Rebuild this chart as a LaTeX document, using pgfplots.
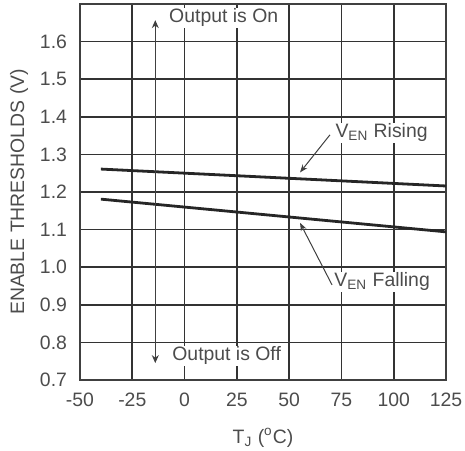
\documentclass[border=0pt]{standalone}
\usepackage{pgfplots}
\pgfplotsset{compat=1.18}
\usetikzlibrary{arrows.meta}
\usepackage{fontspec}
\setmainfont{Liberation Sans}
\begin{document}
\begin{tikzpicture}
\newcommand{\fs}{\fontsize{9.7}{11}\selectfont}
\begin{axis}[
  at={(0,0)}, anchor=south west,
  scale only axis, width=183pt, height=188pt,
  xmin=-50, xmax=125, ymin=0.7, ymax=1.7,
  xtick={-50,-25,0,25,50,75,100,125},
  ytick={0.7,0.8,0.9,1.0,1.1,1.2,1.3,1.4,1.5,1.6},
  grid=major,
  major grid style={black!80, line width=0.8pt},
  axis line style={black!75, line width=0.8pt},
  major tick length=0pt,
  /pgf/number format/assume math mode=true,
  yticklabel style={xshift=-3pt, /pgf/number format/fixed, /pgf/number format/fixed zerofill, /pgf/number format/precision=1},
  xticklabel style={yshift=-3pt, /pgf/number format/fixed},
  tick label style={font=\fs, text=black!70},
  label style={font=\fs, text=black!70},
  xlabel={T\textsubscript{J} (\textsuperscript{o}C)},
  ylabel={ENABLE THRESHOLDS (V)},
  xlabel style={yshift=-4pt},
  ylabel style={yshift=-1pt},
  clip=false,
]
\addplot[black!85, line width=1.4pt] coordinates {(-40,1.261) (125,1.216)};
\addplot[black!85, line width=1.4pt] coordinates {(-40,1.181) (125,1.094)};
\draw[black!75, line width=0.5pt, -{Stealth[length=4pt,width=3.5pt]}] (axis cs:-14,1.2) -- (axis cs:-14,1.657);
\draw[black!75, line width=0.5pt, -{Stealth[length=4pt,width=3.5pt]}] (axis cs:-14,1.2) -- (axis cs:-14,0.745);
\node[anchor=west, font=\fs, text=black!70, fill=white, inner sep=0.5pt] at (axis cs:-8,1.663) {Output is On};
\node[anchor=west, font=\fs, text=black!70, fill=white, inner sep=0.5pt] at (axis cs:-6.5,0.764) {Output is Off};
\node[anchor=west, font=\fs, text=black!70, fill=white, inner sep=0.5pt] at (axis cs:71.5,1.357) {V\textsubscript{EN} Rising};
\node[anchor=west, font=\fs, text=black!70, fill=white, inner sep=0.5pt] at (axis cs:71,0.961) {V\textsubscript{EN} Falling};
\draw[black!75, line width=0.5pt, -{Stealth[length=4pt,width=3pt]}] (axis cs:69.5,1.352) -- (axis cs:55.2,1.252);
\draw[black!75, line width=0.5pt, -{Stealth[length=4pt,width=3pt]}] (axis cs:70.5,0.953) -- (axis cs:55.2,1.118);
\end{axis}
\pgfresetboundingbox
\path (-40pt,-35pt) rectangle (192.5pt,190pt);
\end{tikzpicture}
\end{document}
